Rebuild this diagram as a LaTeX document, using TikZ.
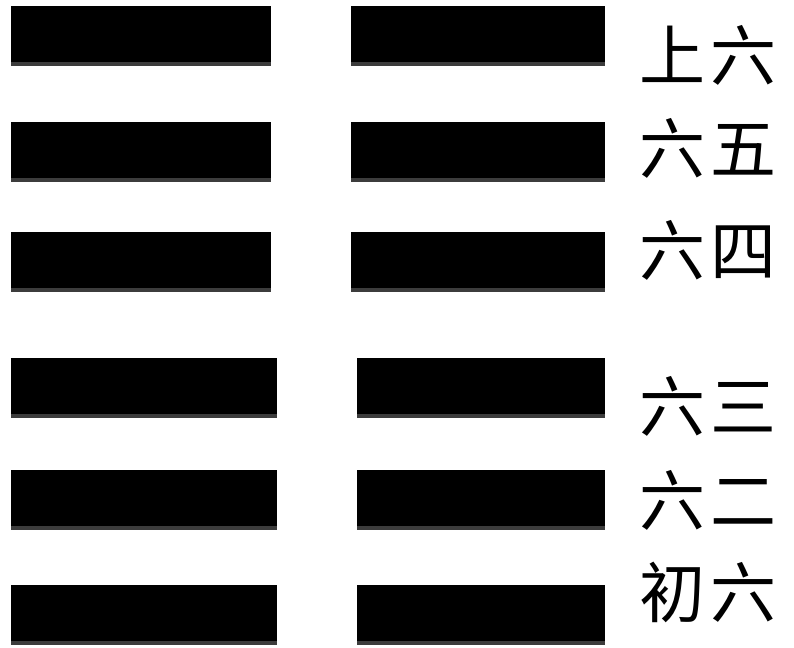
\documentclass[tikz,border=0pt]{standalone}
\usepackage{fontspec}
\newfontfamily\cjk{Noto Sans CJK SC}
\definecolor{barshade}{HTML}{3C3C3C}
\newcommand{\yaogap}{\hspace{6pt}}
\begin{document}
\begin{tikzpicture}[x=1pt,y=-1pt,
  bar/.style={fill=black, inner sep=0pt, minimum height=60pt,
    path picture={\fill[barshade] (path picture bounding box.south west) rectangle ([yshift=4pt]path picture bounding box.south east);}},
  toplbar/.style={bar, minimum width=260pt},
  toprbar/.style={bar, minimum width=254pt},
  botlbar/.style={bar, minimum width=266pt},
  botrbar/.style={bar, minimum width=248pt},
  yaoname/.style={font=\cjk\fontsize{66}{66}\selectfont, inner sep=0pt}]
\useasboundingbox (0,0) rectangle (794,647);
% top trigram
\node[toplbar] (l6) at (141,36) {};
\node[toprbar] (r6) at (478,36) {};
\node[toplbar] (l5) at (141,152) {};
\node[toprbar] (r5) at (478,152) {};
\node[toplbar] (l4) at (141,262) {};
\node[toprbar] (r4) at (478,262) {};
% bottom trigram
\node[botlbar] (l3) at (144,388) {};
\node[botrbar] (r3) at (481,388) {};
\node[botlbar] (l2) at (144,499.5) {};
\node[botrbar] (r2) at (481,499.5) {};
\node[botlbar] (l1) at (144,615) {};
\node[botrbar] (r1) at (481,615) {};
% labels
\node[yaoname] (t6) at (708,55) {上\yaogap 六};
\node[yaoname] (t5) at (708,148) {六\yaogap 五};
\node[yaoname] (t4) at (708,250) {六\yaogap 四};
\node[yaoname] (t3) at (708,406) {六\yaogap 三};
\node[yaoname] (t2) at (708,500) {六\yaogap 二};
\node[yaoname] (t1) at (708,592) {初\yaogap 六};
\end{tikzpicture}
\end{document}
